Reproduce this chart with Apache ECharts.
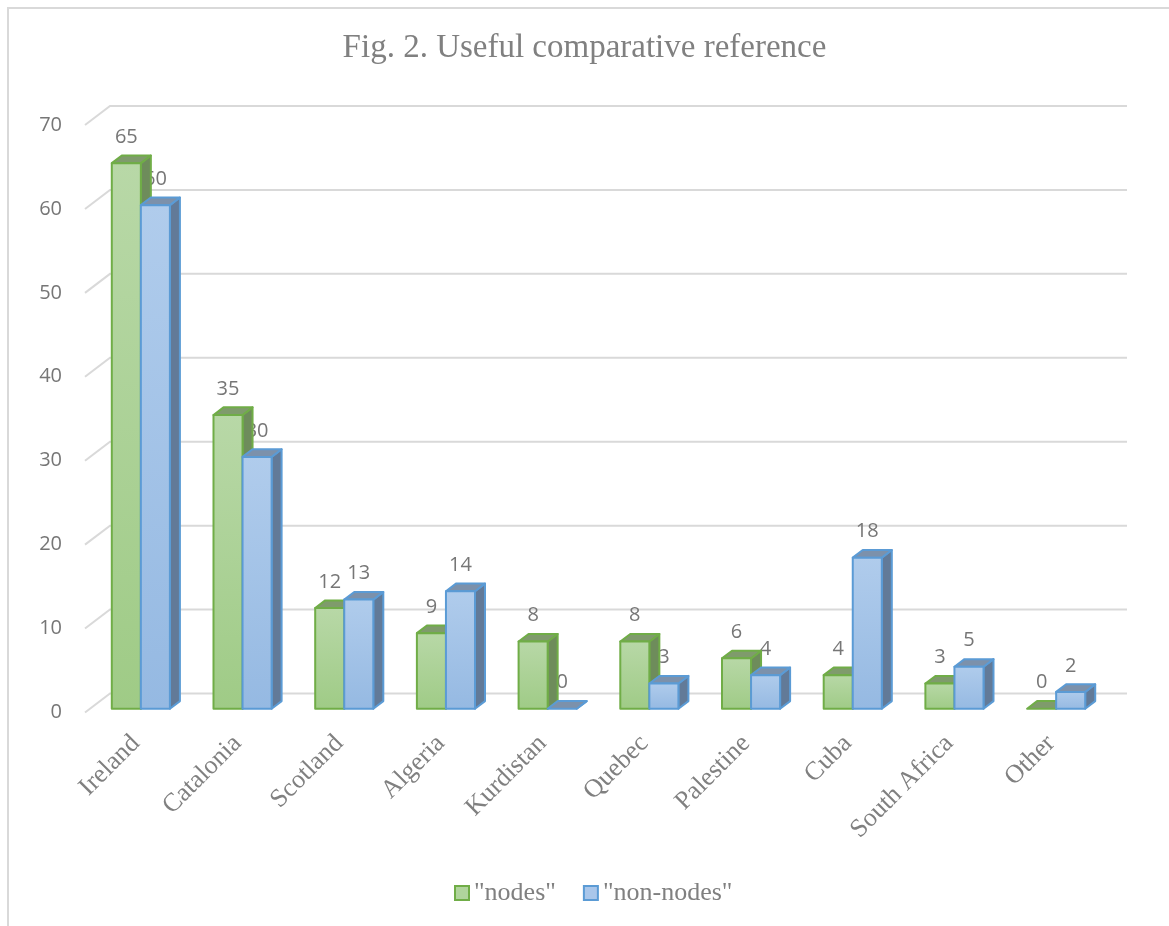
<!DOCTYPE html>
<html>
<head>
<meta charset="utf-8">
<title>Fig. 2</title>
<script src="https://cdn.jsdelivr.net/npm/echarts@6/dist/echarts.min.js"></script>
<style>
  html, body { margin: 0; padding: 0; background: #fff; }
  #chart { width: 1169px; height: 926px; }
</style>
</head>
<body>
<div id="chart"></div>
<script>
// data
const categories = ['Ireland', 'Catalonia', 'Scotland', 'Algeria', 'Kurdistan', 'Quebec', 'Palestine', 'Cuba', 'South Africa', 'Other'];
const nodes = [65, 35, 12, 9, 8, 8, 6, 4, 3, 0];
const nonNodes = [60, 30, 13, 14, 0, 3, 4, 18, 5, 2];
const yTicks = [0, 10, 20, 30, 40, 50, 60, 70];

// depth of the 3d floor (back wall offset)
const DEPTH = [25, -19];
const labelColor = '#767676';

const palette = [
  { front: ['#b8d8a7', '#9fcb86'], top: '#7f9b6c', side: '#6e8c5b', border: '#70ad47' },
  { front: ['#b0ccec', '#95b9e2'], top: '#7c91ab', side: '#627a98', border: '#5b9bd5' }
];

function renderGrid(params, api) {
  const cs = params.coordSys;
  const y = api.coord([0, api.value(1)])[1];
  return {
    type: 'polyline',
    shape: {
      points: [
        [cs.x, y],
        [cs.x + DEPTH[0], y + DEPTH[1]],
        [cs.x + cs.width + DEPTH[0], y + DEPTH[1]]
      ]
    },
    style: { stroke: '#d9d9d9', lineWidth: 2, fill: null },
    silent: true
  };
}

// front face geometry of one bar
function barBox(si, api) {
  const idx = api.value(0);
  const val = api.value(1);
  const base = api.coord([idx, 0]);
  const top = api.coord([idx, val]);
  const band = api.size([1, 0])[0];
  const w = band / 3.5;
  const x0 = base[0] - w + si * w + DEPTH[0] * 0.2;
  return { x0: x0, x1: x0 + w, w: w, y0: base[1] + DEPTH[1] * 0.2, y1: top[1] + DEPTH[1] * 0.2, val: val };
}

function makeBarRender(si) {
  return function (params, api) {
    const c = palette[si];
    const b = barBox(si, api);
    const dx = DEPTH[0] * 0.4, dy = DEPTH[1] * 0.4;
    const stroke = { stroke: c.border, lineWidth: 2, lineJoin: 'round' };
    const children = [];
    children.push({
      type: 'polygon',
      shape: { points: [[b.x1, b.y1], [b.x1 + dx, b.y1 + dy], [b.x1 + dx, b.y0 + dy], [b.x1, b.y0]] },
      style: Object.assign({ fill: c.side }, stroke)
    });
    children.push({
      type: 'polygon',
      shape: { points: [[b.x0, b.y1], [b.x0 + dx, b.y1 + dy], [b.x1 + dx, b.y1 + dy], [b.x1, b.y1]] },
      style: Object.assign({ fill: c.top }, stroke)
    });
    if (b.y0 - b.y1 > 0.5) {
      children.push({
        type: 'rect',
        shape: { x: b.x0, y: b.y1, width: b.w, height: b.y0 - b.y1 },
        style: Object.assign({
          fill: { type: 'linear', x: 0, y: 0, x2: 0, y2: 1,
            colorStops: [{ offset: 0, color: c.front[0] }, { offset: 1, color: c.front[1] }] }
        }, stroke)
      });
    }
    return { type: 'group', children: children };
  };
}

function makeLabelRender(si) {
  return function (params, api) {
    const b = barBox(si, api);
    return {
      type: 'text',
      x: b.x0 + b.w / 2,
      y: b.y1 - 26,
      style: {
        text: String(b.val),
        fill: labelColor,
        font: '20px "Open Sans"',
        align: 'center',
        verticalAlign: 'middle'
      }
    };
  };
}

const chart = echarts.init(document.getElementById('chart'));

chart.setOption({
  animation: false,
  backgroundColor: '#fff',
  title: {
    text: 'Fig. 2. Useful comparative reference',
    left: 'center',
    top: 32,
    padding: 0,
    textStyle: {
      fontFamily: 'Liberation Serif',
      fontWeight: 'normal',
      fontSize: 33,
      color: '#808080'
    }
  },
  graphic: [{
    type: 'rect',
    shape: { x: 8, y: 8, width: 1300, height: 1000 },
    style: { stroke: '#d9d9d9', lineWidth: 2, fill: null },
    silent: true,
    z: -10
  }],
  legend: {
    top: 880,
    left: 454,
    padding: 0,
    itemWidth: 14,
    itemHeight: 14,
    itemGap: 27,
    itemTextGap: 8,
    icon: 'rect',
    textStyle: { fontFamily: 'Liberation Serif', fontSize: 26, color: '#808080' },
    data: [
      { name: '"nodes"', itemStyle: { color: '#b0d49c', borderColor: '#70ad47', borderWidth: 2 } },
      { name: '"non-nodes"', itemStyle: { color: '#a9c6ea', borderColor: '#5b9bd5', borderWidth: 2 } }
    ]
  },
  grid: { left: 85, right: 67, top: 125, bottom: 213.5 },
  xAxis: {
    type: 'category',
    data: categories,
    axisLine: { show: false },
    axisTick: { show: false },
    axisLabel: {
      rotate: 45,
      interval: 0,
      margin: 27,
      padding: [36, 0, 0, 0],
      fontFamily: 'Liberation Serif',
      fontSize: 26,
      color: '#808080'
    }
  },
  yAxis: {
    type: 'value',
    min: 0,
    max: 70,
    interval: 10,
    axisLine: { show: false },
    axisTick: { show: false },
    splitLine: { show: false },
    axisLabel: {
      margin: 23,
      fontFamily: 'Open Sans',
      fontSize: 20,
      color: labelColor
    }
  },
  series: [
    {
      name: 'grid',
      type: 'custom',
      renderItem: renderGrid,
      data: yTicks.map(v => [0, v]),
      silent: true,
      z: 1
    },
    {
      name: 'labels-nodes',
      type: 'custom',
      renderItem: makeLabelRender(0),
      encode: { x: 0, y: 1 },
      data: nodes.map((v, i) => [i, v]),
      silent: true,
      z: 1.5
    },
    {
      name: 'labels-non-nodes',
      type: 'custom',
      renderItem: makeLabelRender(1),
      encode: { x: 0, y: 1 },
      data: nonNodes.map((v, i) => [i, v]),
      silent: true,
      z: 1.5
    },
    {
      name: '"nodes"',
      type: 'custom',
      renderItem: makeBarRender(0),
      encode: { x: 0, y: 1 },
      data: nodes.map((v, i) => [i, v]),
      itemStyle: { color: '#b0d49c' },
      z: 2
    },
    {
      name: '"non-nodes"',
      type: 'custom',
      renderItem: makeBarRender(1),
      encode: { x: 0, y: 1 },
      data: nonNodes.map((v, i) => [i, v]),
      itemStyle: { color: '#a9c6ea' },
      z: 3
    }
  ]
});
</script>
</body>
</html>
